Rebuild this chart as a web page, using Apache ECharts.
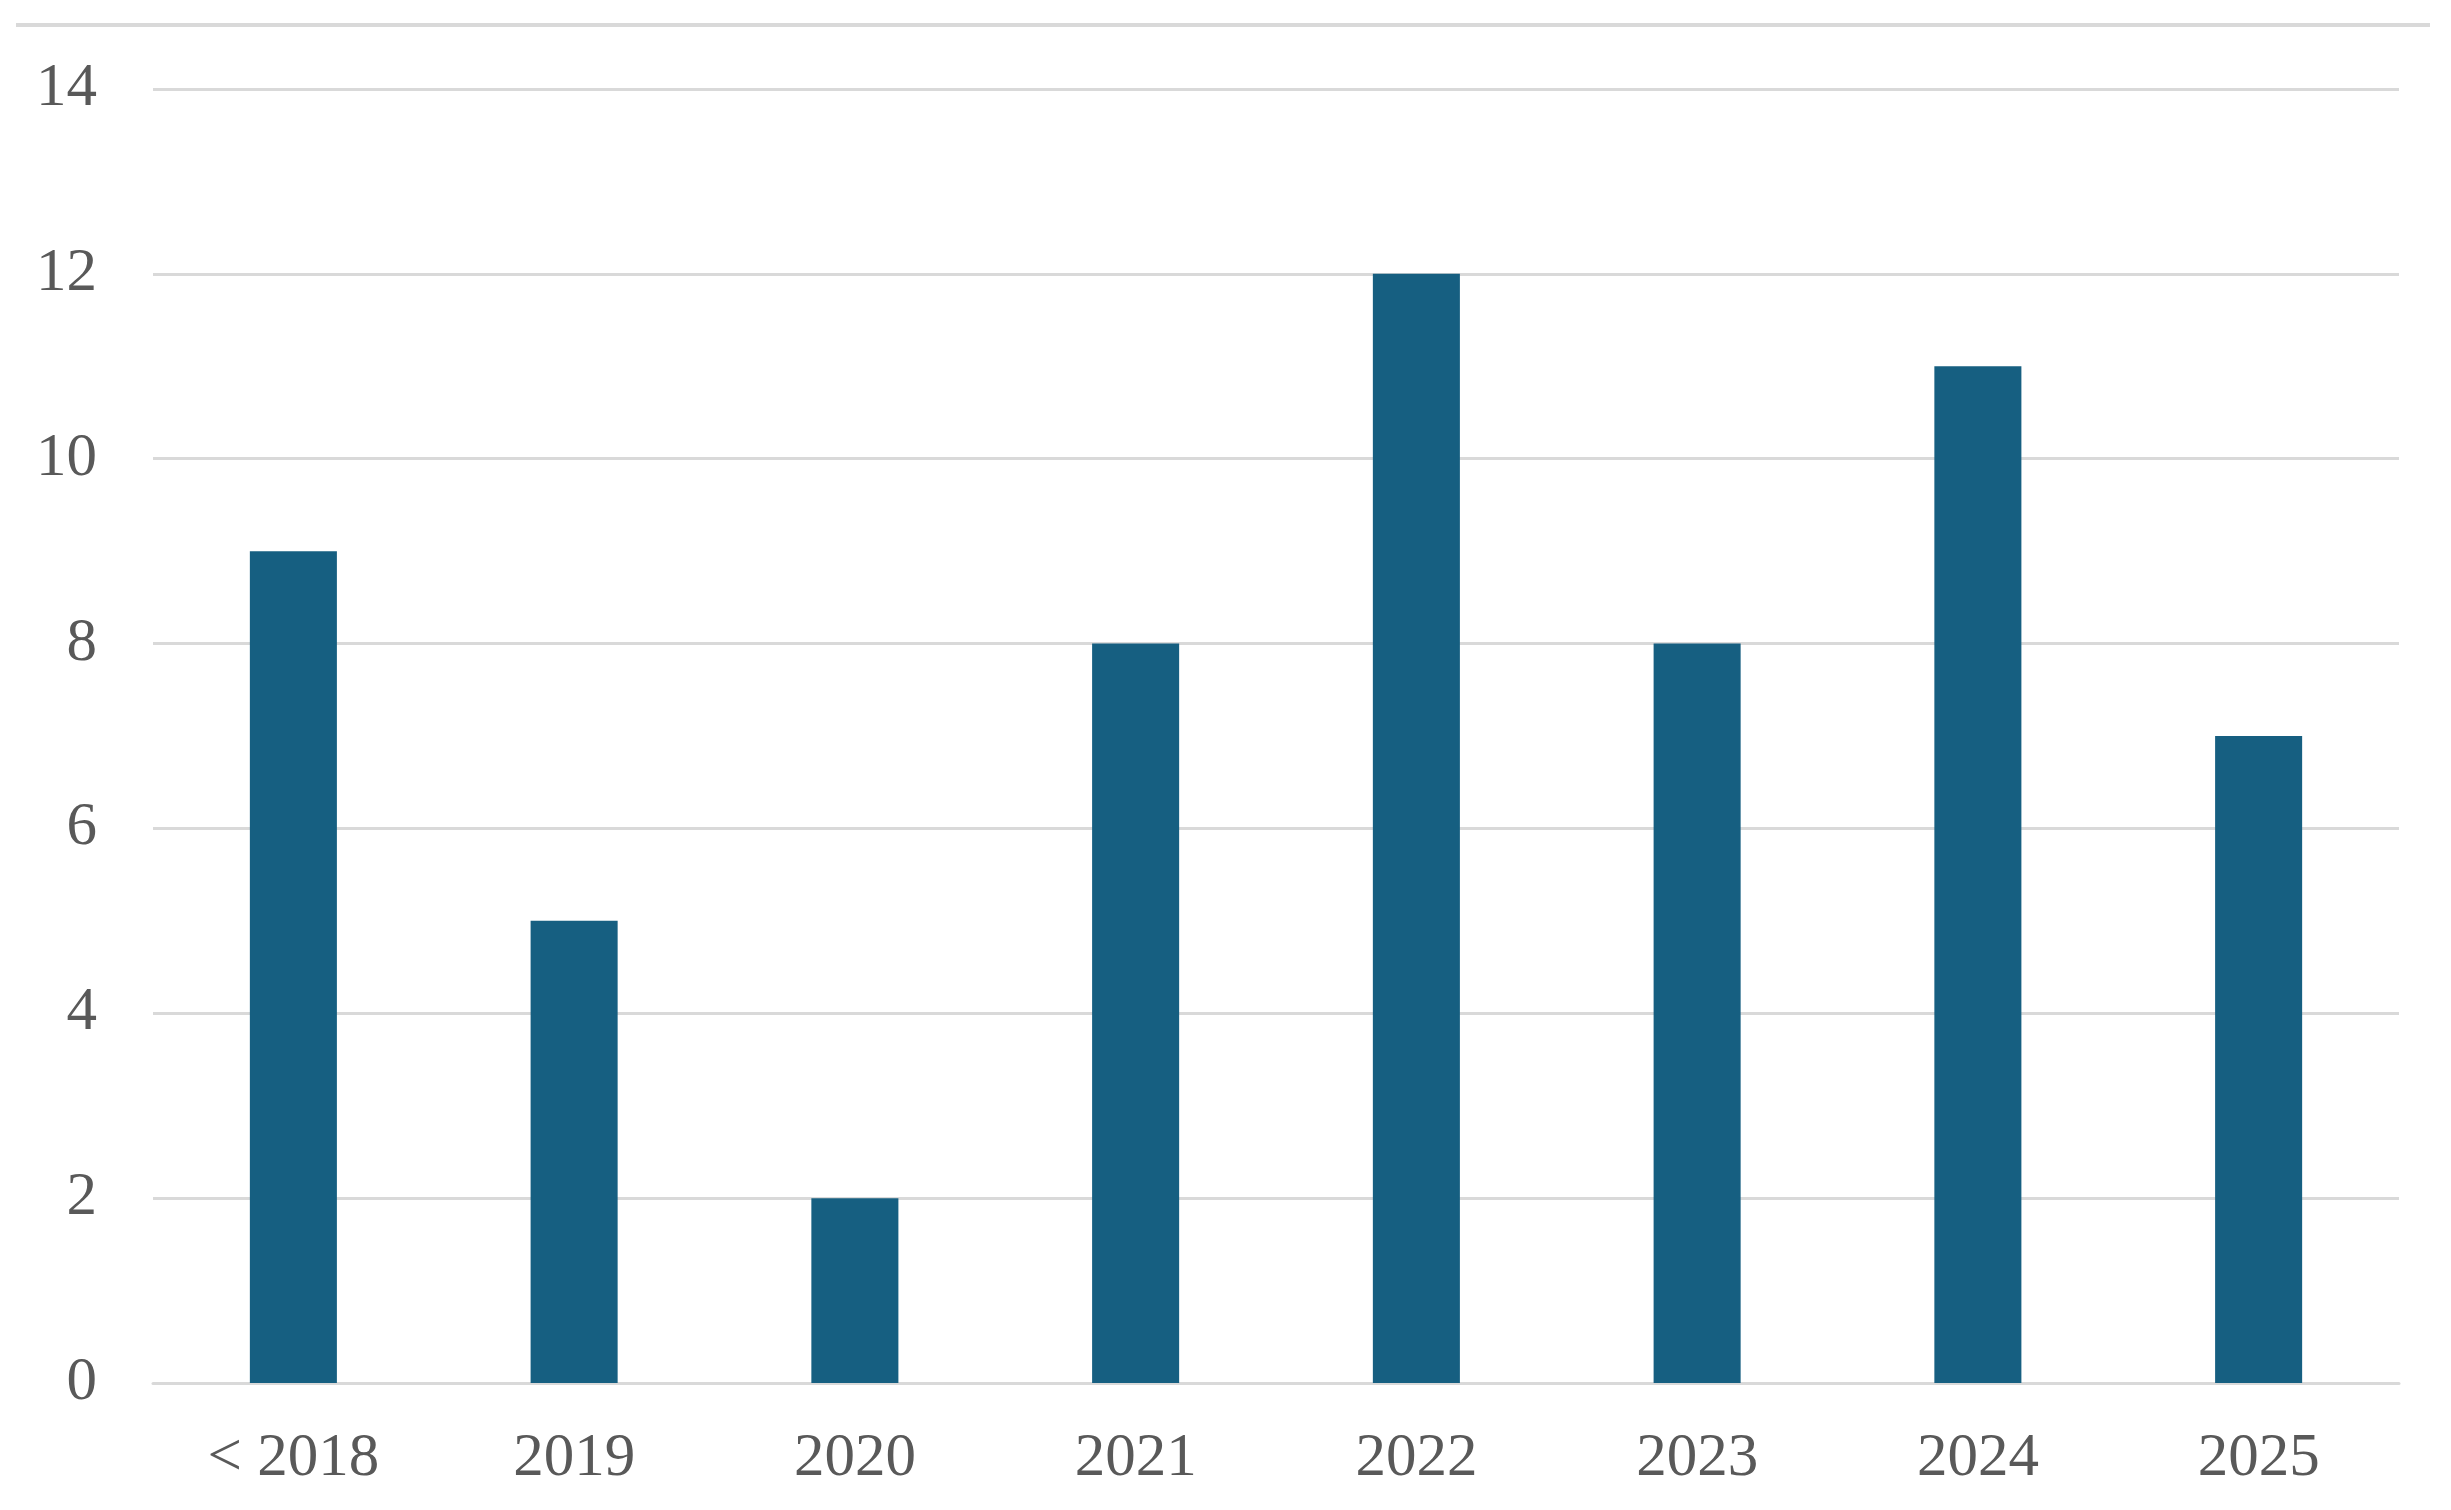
<!DOCTYPE html>
<html>
<head>
<meta charset="utf-8">
<script src="https://cdn.jsdelivr.net/npm/echarts@6/dist/echarts.min.js"></script>
<style>
  html, body { margin: 0; padding: 0; background: #fff; }
  #chart { width: 2451px; height: 1510px; }
</style>
</head>
<body>
<div id="chart"></div>
<script>
const categories = ["< 2018", "2019", "2020", "2021", "2022", "2023", "2024", "2025"];
const counts = [9, 5, 2, 8, 12, 8, 11, 7];

const labelColor = "#595959";
const gridColor = "#d9d9d9";
const barColor = "#165f81";
const font = "'Liberation Serif', 'Times New Roman', serif";

const chart = echarts.init(document.getElementById("chart"));

chart.setOption({
  backgroundColor: "#ffffff",
  animation: false,
  grid: { left: 153, right: 52, top: 89, bottom: 127 },
  graphic: [{
    type: "line",
    shape: { x1: 16, y1: 25, x2: 2430, y2: 25 },
    style: { stroke: gridColor, lineWidth: 4 }
  }],
  xAxis: {
    type: "category",
    data: categories,
    axisTick: { show: false },
    axisLine: { show: true, lineStyle: { color: gridColor, width: 3 } },
    axisLabel: { color: labelColor, fontFamily: font, fontSize: 61, margin: 45 }
  },
  yAxis: {
    type: "value",
    min: 0,
    max: 14,
    interval: 2,
    axisLine: { show: false },
    axisTick: { show: false },
    axisLabel: { color: labelColor, fontFamily: font, fontSize: 61, margin: 56 },
    splitLine: { lineStyle: { color: gridColor, width: 3 } }
  },
  series: [{
    type: "bar",
    data: counts,
    barWidth: "31%",
    itemStyle: { color: barColor }
  }]
});
</script>
</body>
</html>
